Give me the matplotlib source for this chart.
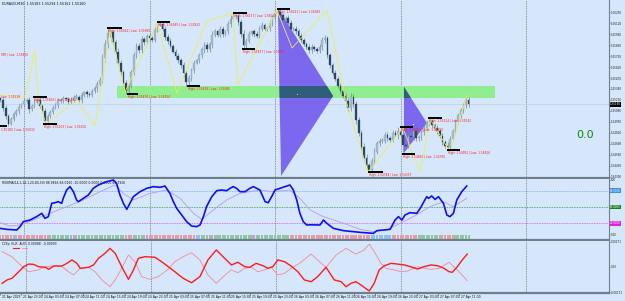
import numpy as np
import matplotlib
matplotlib.use("Agg")
import matplotlib.pyplot as plt
from matplotlib.patches import Polygon, Rectangle
from matplotlib.transforms import blended_transform_factory

# Colours (MT4 light template)
BG = '#d6e7fb'
SEP = '#707d8a'
BULL = '#a8bccb'
BEAR = '#2b4b60'
WICK = '#73889a'
ZONE = '#90ee90'
TRI = '#7b68ee'
TRI_OVER = '#2f5d7c'
ZIGZAG = '#eded52'

# ---- price data: EURAUD M30, values in pips above 1.54000, x = bar index ----
first_open = 125
closes = [
    123, 121, 112, 102, 93, 99, 104, 108, 113, 116,
    120, 121, 110, 114, 119, 121, 114, 108, 96, 102,
    107, 112, 115, 120, 121, 123, 122, 119, 121, 125,
    125, 121, 127, 130, 128, 127, 132, 135, 140, 145,
    171, 187, 200, 201, 189, 178, 165, 154, 141, 132,
    138, 154, 174, 185, 180, 193, 189, 197, 194, 192,
    204, 210, 211, 205, 195, 191, 185, 178, 173, 168,
    162, 153, 142, 147, 156, 165, 168, 174, 181, 186,
    181, 187, 198, 202, 198, 205, 199, 202, 211, 217,
    220, 220, 213, 199, 186, 191, 199, 202, 199, 197,
    205, 210, 205, 206, 212, 219, 224, 225, 221, 215,
    218, 212, 205, 205, 202, 197, 192, 187, 184, 180,
    184, 181, 179, 184, 192, 194, 174, 162, 153, 146,
    138, 132, 126, 120, 112, 125, 116, 97, 82, 66,
    53, 44, 38, 49, 60, 70, 73, 73, 80, 76,
    74, 82, 80, 84, 80, 68, 67, 79, 77, 84,
    76, 77, 83, 88, 94, 96, 91, 88, 84, 79,
    71, 67, 66, 75, 84, 96, 103, 109, 115, 121,
    116]
wick = [
    3, 2, 4, 3, 3, 2, 3, 2, 3, 2,
    3, 2, 4, 2, 3, 2, 3, 2, 3, 3,
    2, 3, 2, 3, 2, 3, 2, 3, 3, 2,
    3, 2, 3, 2, 3, 3, 2, 3, 4, 3,
    4, 5, 5, 4, 3, 3, 4, 3, 3, 4,
    3, 3, 4, 3, 3, 4, 3, 2, 3, 3,
    3, 3, 2, 3, 3, 4, 3, 2, 3, 3,
    3, 4, 4, 3, 3, 3, 2, 3, 3, 4,
    3, 3, 4, 3, 2, 3, 3, 2, 3, 4,
    4, 3, 3, 4, 5, 3, 3, 2, 3, 3,
    3, 3, 2, 3, 3, 3, 4, 4, 3, 3,
    2, 3, 3, 2, 3, 3, 3, 2, 3, 3,
    3, 2, 3, 3, 4, 4, 3, 3, 3, 3,
    3, 3, 3, 3, 4, 4, 3, 4, 4, 4,
    4, 4, 2, 3, 4, 3, 3, 3, 3, 3,
    3, 3, 3, 5, 3, 9, 4, 3, 3, 3,
    3, 3, 3, 3, 3, 4, 3, 3, 3, 3,
    3, 3, 4, 3, 3, 3, 3, 3, 3, 4,
    3]

price_ticks = [225, 212, 199, 186, 173, 160, 147, 134, 121, 108, 95, 82, 69, 56, 43, 30]

# swing high/low markers (the first two start left of the visible window)
swing_start = [-7.6, -9.9, 13.4, 17.3, 0.9, 41.7, 49.4, 60.9, 72.3, 89.9, 93.4, 106.8, 141.6, 153.8, 154.5, 164.5, 171.8]
swing_end = [-2.6, -4.9, 18.8, 22.6, 3.5, 47.5, 53.6, 65.8, 77.3, 95.3, 98.3, 111.7, 147.3, 158.8, 159.5, 169.8, 176.7]
swing_level = [178.9, 128.1, 124.6, 92.7, 90.3, 206.1, 128.1, 213.2, 137.6, 223.8, 181.3, 228.6, 36.0, 89.1, 57.2, 99.8, 61.9]
swing_text = [
    "995 | Low: 1.55826", "Low: 1.55518",
    "High: 1.55603 | Low: 1.55482", "High: 1.55203 | Low: 1.55050",
    "1.55180 | Low: 1.55032", "High: 1.56026 | Low: 1.55880",
    "High: 1.55476 | Low: 1.55354", "High: 1.56049 | Low: 1.55922",
    "High: 1.55619 | Low: 1.55485", "High: 1.56157 | Low: 1.56029",
    "High: 1.55827 | Low: 1.55701", "High: 1.56221 | Low: 1.56082",
    "High: 1.54748 | Low: 1.54337", "High: 1.54993 | Low: 1.54866",
    "High: 1.54891 | Low: 1.54765", "High: 1.55124 | Low: 1.55042",
    "High: 1.54952 | Low: 1.54826"]

zz_idx = [0.1, 10.4, 14.2, 15.4, 18.4, 30.3, 37.2, 42.9, 48.6, 60.9, 68.5, 80.0, 89.9, 91.8,
          106.7, 112.5, 125.9, 132.8, 141.6, 154.9, 161.4, 165.3, 172.9, 179.4]
zz_pips = [126.9, 124.6, 180.1, 123.4, 92.7, 121.0, 90.3, 203.7, 130.5, 212.0, 129.3, 214.4, 223.8, 138.8,
           227.4, 182.5, 227.4, 123.4, 35.9, 87.9, 35.9, 98.6, 59.6, 126.9]

zone_idx = (45.6, 190.1)
zone_pips = (123.4, 137.6)
triangles = [
    [(107.1, 229.7), (108.3, 31.2), (128.2, 125.7)],
    [(155.3, 136.4), (155.3, 58.4), (164.1, 93.8)],
]

day_idx = [10, 58, 106, 154, 202]

# ---- RSIOMA window ----
rsi_idx = [0.8, 3.4, 7.2, 8.5, 9.7, 12.3, 14.8, 16.8, 18.0, 19.3, 20.6, 21.9, 23.1, 24.4, 25.0, 26.3, 27.6,
           28.9, 30.1, 30.8, 32.7, 34.6, 36.5, 38.4, 41.6, 44.2, 45.4, 46.7, 48.0, 49.3, 50.5, 51.8, 54.4,
           56.9, 59.5, 62.0, 63.9, 65.8, 67.1, 68.4, 70.3, 72.2, 74.1, 76.0, 77.3, 78.6, 79.8, 81.8, 83.7,
           85.6, 87.5, 88.8, 90.0, 91.3, 92.6, 94.5, 96.4, 97.7, 99.0, 100.2, 102.2, 103.4, 104.7, 106.0,
           107.9, 109.8, 111.7, 113.0, 114.3, 115.5, 116.8, 118.1, 119.4, 123.2, 124.5, 125.8, 128.3,
           132.2, 138.5, 143.6, 144.9, 147.4, 150.0, 151.9, 153.2, 154.5, 155.7, 157.6, 160.2, 161.5,
           164.0, 164.7, 165.9, 167.2, 168.5, 170.4, 171.7, 172.9, 174.2, 175.5, 177.4, 179.3]
rsi_val = [10.5, 8.6, 7.4, 13.6, 22.8, 25.9, 32.1, 38.3, 29.0, 32.1, 56.8, 58.0, 59.9, 56.8, 66.0, 81.5, 87.7,
           78.4, 63.0, 59.9, 66.0, 72.2, 84.6, 90.7, 96.9, 100.0, 93.8, 72.2, 56.8, 45.7, 56.8, 69.1, 78.4,
           84.6, 87.7, 86.4, 88.9, 75.3, 59.9, 47.5, 35.2, 22.8, 14.8, 13.6, 16.7, 32.1, 50.6, 69.1, 80.2,
           81.5, 80.2, 84.6, 87.7, 84.6, 78.4, 78.4, 84.6, 87.7, 84.6, 81.5, 59.9, 58.0, 69.1, 81.5,
           84.6, 87.7, 90.7, 81.5, 63.0, 38.3, 22.8, 16.7, 17.0, 16.7, 25.9, 19.8, 10.5,
           6.2, 3.1, 1.2, 6.2, 7.4, 8.6, 25.9, 32.1, 25.9, 35.2, 39.5, 38.3, 47.5,
           69.1, 66.0, 70.4, 64.2, 69.1, 56.8, 35.2, 32.1, 38.3, 63.0, 78.4, 88.9]
sig_idx = [0.8, 4.6, 8.5, 13.6, 19.9, 26.3, 32.7, 39.1, 44.8, 48.0, 51.8, 58.2, 64.6, 69.7, 74.8, 78.0,
           82.4, 87.5, 92.6, 100.2, 105.3, 111.7, 115.5, 119.4, 124.5, 132.2, 138.5, 143.6, 148.7,
           153.8, 158.9, 165.3, 170.4, 174.2, 179.3]
sig_val = [21.0, 14.8, 16.7, 25.9, 38.3, 50.6, 63.0, 78.4, 90.7, 75.3, 63.0, 75.3, 81.5, 66.0, 38.3, 27.2,
           44.4, 63.0, 75.3, 81.5, 78.4, 81.5, 66.0, 44.4, 32.1, 19.8, 8.6, 4.3, 7.4,
           19.8, 32.1, 50.6, 59.9, 50.6, 66.0]
rsi_levels = [80, 50, 20]
strip_runs = [('r', 7), ('b', 1), ('r', 12), ('g', 9), ('v', 1), ('g', 19), ('r', 3), ('g', 5), ('v', 1),
              ('r', 18), ('b', 2), ('g', 4), ('v', 1), ('g', 15), ('v', 1), ('g', 13), ('r', 31),
              ('b', 8), ('r', 10), ('g', 9), ('r', 5), ('g', 6)]

# ---- CCFp window (x 1e-5) ----
eur_idx = [0.8, 2.7, 4.6, 7.2, 9.1, 11.0, 12.9, 14.8, 17.4, 18.7, 20.6, 23.8, 25.7, 27.6, 29.5, 30.8, 34.0,
           35.9, 37.8, 40.3, 42.2, 44.2, 46.7, 49.3, 51.2, 53.1, 55.6, 59.5, 62.0, 64.6, 67.1, 70.3, 73.5,
           76.7, 79.8, 83.0, 85.6, 88.8, 91.3, 93.9, 95.8, 98.3, 100.9, 102.8, 104.7, 106.6, 109.2, 111.7,
           114.3, 116.8, 119.4, 121.9, 125.1, 128.3, 130.9, 132.8, 134.7, 136.6, 138.5, 141.7, 143.6,
           145.5, 147.4, 150.0, 152.5, 155.1, 157.6, 160.2, 162.7, 165.3, 167.8, 170.4, 172.3, 173.6,
           175.5, 177.4, 179.3]
eur_val = [-111, -88, -77, -32, 2, 20, 18, 2, -2, -16, 7, 7, 25, 48, 25, -9, -2,
           14, 59, 93, 127, 93, 2, -84, -20, 59, 70, 66, 36, 2, -32, -77, -107,
           -66, 48, 116, 70, 14, 32, 2, -2, 25, 9, -9, 2, 48, 36, 7,
           -32, -88, -100, -66, -2, -88, -100, -134, -111, -100, -122, -163, -111,
           -20, 7, 25, 20, 14, 2, -14, 2, 14, 9, -9, -32, -36,
           2, 48, 88]
aud_idx = [0.8, 4.6, 8.5, 11.0, 14.8, 17.4, 19.9, 23.8, 26.3, 28.2, 30.8, 34.0, 36.5, 39.1, 42.2, 44.2,
           46.7, 49.3, 51.8, 54.4, 57.5, 60.7, 64.6, 67.1, 70.3, 73.5, 76.7, 79.8, 83.0, 85.6, 88.8, 91.3,
           93.9, 96.4, 99.0, 101.5, 104.1, 106.6, 109.2, 111.7, 114.9, 119.4, 122.6, 125.1, 129.0, 132.8,
           136.6, 139.8, 141.7, 143.6, 146.2, 148.1, 151.3, 153.8, 156.4, 160.2, 162.7, 165.3, 168.5,
           172.3, 175.5, 179.3]
aud_val = [104, 70, 2, -32, -20, 2, 7, 2, -32, -54, -9, -2, -32, -88, -134, -88,
           -9, 82, 36, -66, -84, -66, -16, 36, 70, 97, 48, -54, -111, -66, -20, -39,
           -9, -2, -32, -20, -2, -54, -43, -9, 25, 88, 36, -2, 82, 127,
           88, 116, 156, 104, 25, -9, -20, -32, -27, 2, -9, -16, -9,
           32, -20, -93]

xtick_idx = [0, 8, 16, 24, 32, 40, 48, 56, 64, 72, 80, 88, 96, 104, 112, 120, 128, 136, 144, 152, 160, 168, 176]
xtick_labels = ["21 Apr 2023", "21 Apr 23:00", "24 Apr 03:00", "24 Apr 07:00", "24 Apr 11:00", "24 Apr 15:00",
                "24 Apr 19:00", "24 Apr 23:00", "25 Apr 03:00", "25 Apr 07:00", "25 Apr 11:00", "25 Apr 15:00",
                "25 Apr 19:00", "25 Apr 23:00", "26 Apr 03:00", "26 Apr 07:00", "26 Apr 11:00", "26 Apr 15:00",
                "26 Apr 19:00", "26 Apr 23:00", "27 Apr 03:00", "27 Apr 07:00", "27 Apr 11:00"]

W, H = 625, 301
PLOT_RIGHT = 609
XLIM = (0.82, 0.82 + PLOT_RIGHT / 2.615)


def P(v):
    """pips above 1.54 -> price"""
    return 1.54 + np.asarray(v, float) / 1e4


def px_axes(fig, top, bottom, right=PLOT_RIGHT):
    """Axes placed by pixel rows of the figure"""
    return fig.add_axes([0, 1 - bottom / H, right / W, (bottom - top) / H])


def style_panel(ax):
    ax.set_facecolor(BG)
    ax.set_xlim(*XLIM)
    for s in ('left', 'top'):
        ax.spines[s].set_visible(False)
    ax.spines['right'].set_color(SEP)
    ax.spines['right'].set_linewidth(0.8)
    ax.spines['bottom'].set_color(SEP)
    ax.spines['bottom'].set_linewidth(1.6)
    ax.yaxis.tick_right()
    ax.tick_params(axis='y', length=1.0, width=0.4, pad=0.4, labelsize=2.0, colors='#222222')
    ax.set_xticks([])
    for d in day_idx:
        ax.axvline(d, color='#56626e', lw=0.5, ls=(0, (1.2, 1.2)), zorder=1)


def draw_main(ax):
    ax.set_ylim(P(28.8), P(239.2))
    c = np.array(closes, float)
    o = np.r_[first_open, c[:-1]]
    w = np.array(wick, float)
    hi = np.maximum(o, c) + w
    lo = np.minimum(o, c) - w
    idx = np.arange(len(c))
    up = c >= o

    zone = Rectangle((zone_idx[0], P(zone_pips[0])), zone_idx[1] - zone_idx[0],
                     (zone_pips[1] - zone_pips[0]) / 1e4, fc=ZONE, ec='none', zorder=1.5)
    ax.add_patch(zone)
    for tri in triangles:
        verts = [(x, P(y)) for x, y in tri]
        ax.add_patch(Polygon(verts, closed=True, fc=TRI, ec='none', zorder=2))
        ov = Polygon(verts, closed=True, fc=TRI_OVER, ec='none', zorder=2.1)
        ax.add_patch(ov)
        ov.set_clip_path(zone)

    ax.vlines(idx, P(lo), P(hi), color=WICK, lw=0.5, zorder=3)
    body = np.where(np.abs(c - o) < 0.7, 0.7, np.abs(c - o))
    bottom = np.minimum(o, c)
    ax.bar(idx[up], body[up] / 1e4, bottom=P(bottom[up]), width=0.62, color=BULL,
           edgecolor='#7f95a6', linewidth=0.2, zorder=4)
    ax.bar(idx[~up], body[~up] / 1e4, bottom=P(bottom[~up]), width=0.62, color=BEAR,
           edgecolor='#22394a', linewidth=0.2, zorder=4)

    ax.plot(zz_idx, P(zz_pips), color=ZIGZAG, lw=0.6, zorder=5)
    ax.plot([114.4], [P(128.1)], 'o', ms=0.8, color='#f4f040', mec='none', zorder=6)
    ax.plot([158.8], [P(92.7)], 'o', ms=0.8, color='white', mec='none', zorder=6)

    for s, e, lv, t in zip(swing_start, swing_end, swing_level, swing_text):
        ax.plot([s, e], [P(lv), P(lv)], color='black', lw=1.4, solid_capstyle='butt', zorder=6)
        ax.text(max(s, XLIM[0]) + 0.4, P(lv - 1.5), t, fontsize=2.1, color='#ff1a1a', va='top',
                ha='left', zorder=7, clip_on=True)

    last = c[-1]
    ax.axhline(P(last), color='#b9cbe0', lw=0.4, zorder=1)
    ax.set_yticks(P(price_ticks))
    ax.set_yticklabels([f"{p:.5f}" for p in P(price_ticks)])
    tr = blended_transform_factory(ax.transAxes, ax.transData)
    ax.text(1.002, P(last), f"{P(last):.5f}", transform=tr, fontsize=2.0, color='white', va='center',
            ha='left', bbox=dict(boxstyle='square,pad=0.1', fc='black', ec='none'), clip_on=False, zorder=8)

    ax.text(0.004, 0.988, "EURAUD,M30  1.55183 1.55294 1.55162 1.55160", transform=ax.transAxes,
            fontsize=2.4, va='top', ha='left', color='#111111')
    ax.text(0.96, 0.24, "0.0", transform=ax.transAxes, fontsize=8, color='#0a8a0a',
            ha='center', va='center')


def draw_rsi(ax):
    ax.set_ylim(-11.1, 101.85)
    colors = {'r': '#e69ca7', 'g': '#8fc8a0', 'b': '#8cc3ee', 'v': '#e48ee6'}
    seq = []
    for code, n in strip_runs:
        seq += [code] * n
    ax.bar(np.arange(len(seq)), 9.6, bottom=-10.8, width=0.78,
           color=[colors[k] for k in seq], edgecolor='none', zorder=2)
    lvl_colors = ['#6aaeff', '#3a9a3a', '#e050e0']
    box_colors = ['#3d8fe0', '#1e7d1e', '#e020e0']
    tr = blended_transform_factory(ax.transAxes, ax.transData)
    for lv, lc, bc in zip(rsi_levels, lvl_colors, box_colors):
        ax.axhline(lv, color=lc, lw=0.6, ls=(0, (1, 1)), zorder=1)
        ax.text(1.002, lv, f"{lv:.4f}", transform=tr, fontsize=2.0, color='white', va='center', ha='left',
                bbox=dict(boxstyle='square,pad=0.15', fc=bc, ec='none'), clip_on=False)
    ax.plot(sig_idx, sig_val, color='#b89be6', lw=0.6, zorder=3)
    ax.plot(rsi_idx, rsi_val, color='#1010e8', lw=1.2, zorder=4)
    ax.set_yticks([100, 0])
    ax.set_yticklabels(['100', '0.00'])
    ax.text(0.004, 0.975, "RSIOMA(14,1,14,1,20,80,50) 88.9466 66.0160 -10.0000 0.0000 0.0000 66.7926",
            transform=ax.transAxes, fontsize=2.2, va='top', ha='left', color='#111111')


def draw_ccf(ax):
    ax.set_ylim(-176.8, 176.8)
    ax.plot(aud_idx, aud_val, color='#f08a96', lw=0.6, zorder=3)
    ax.plot(eur_idx, eur_val, color='#ff1a1a', lw=1.0, zorder=4)
    ax.set_yticks([171, 0, -171])
    ax.set_yticklabels(['0.00171', '0.00', '-0.00171'])
    ax.text(0.004, 0.975, "CCFp  EUR  AUD  0.00088  -0.00093", transform=ax.transAxes,
            fontsize=2.2, va='top', ha='left', color='#111111')
    ax.plot([0.022, 0.032], [0.86, 0.86], transform=ax.transAxes, color='#ff1a1a', lw=0.8)
    ax.plot([0.036, 0.044], [0.86, 0.86], transform=ax.transAxes, color='#f08a96', lw=0.6)
    ax.set_xticks(xtick_idx)
    ax.tick_params(axis='x', length=1.5, width=0.4, colors='#333333', labelbottom=False)
    tr = blended_transform_factory(ax.transData, ax.transAxes)
    for i, lab in zip(xtick_idx, xtick_labels):
        ax.text(i + 0.8, -0.04, lab, transform=tr, fontsize=2.2, va='top', ha='left',
                color='#111111', clip_on=False)


def main():
    fig = plt.figure(figsize=(W / 100, H / 100), dpi=100)
    fig.patch.set_facecolor(BG)

    ax_main = px_axes(fig, 0, 178)
    ax_rsi = px_axes(fig, 179, 240)
    ax_ccf = px_axes(fig, 241, 293)
    for ax in (ax_main, ax_rsi, ax_ccf):
        style_panel(ax)

    draw_main(ax_main)
    draw_rsi(ax_rsi)
    draw_ccf(ax_ccf)

    fig.savefig("out.png", dpi=100, facecolor=BG)


if __name__ == "__main__":
    main()
